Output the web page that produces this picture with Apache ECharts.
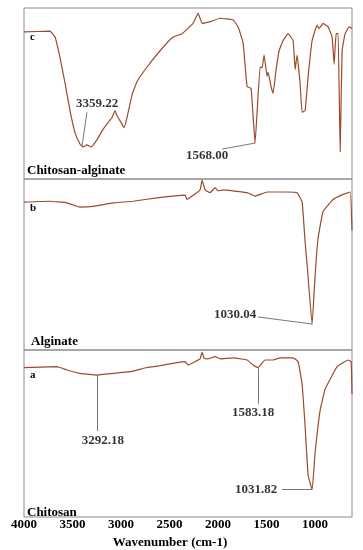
<!DOCTYPE html>
<html>
<head>
<meta charset="utf-8">
<script src="https://cdn.jsdelivr.net/npm/echarts@6/dist/echarts.min.js"></script>
<style>
  html, body { margin: 0; padding: 0; background: #fff; }
  #chart { width: 363px; height: 550px; }
</style>
</head>
<body>
<div id="chart"></div>
<script>
// spectra: [wavenumber, relative transmittance]
const chitosanAlginate = [
  [4000, 86], [3732, 86.5], [3680, 83], [3629, 71], [3577, 56], [3526, 40], [3474, 27],
  [3423, 20.5], [3392, 18.7], [3351, 20], [3309, 18.7], [3247, 23], [3186, 29], [3134, 33],
  [3093, 36], [3062, 40], [3041, 37], [3000, 33], [2969, 30], [2938, 36], [2887, 49],
  [2835, 57], [2732, 65.5], [2598, 75], [2464, 83], [2371, 85], [2258, 91], [2206, 97],
  [2165, 91], [2083, 92], [1979, 94], [1845, 93], [1794, 89], [1742, 79.5], [1701, 54],
  [1660, 53], [1619, 21], [1567, 65.5], [1546, 65], [1526, 72.5], [1495, 60], [1485, 62.5],
  [1454, 54], [1433, 50], [1402, 64], [1371, 75], [1330, 81], [1278, 85], [1227, 81],
  [1206, 64], [1186, 72.5], [1155, 56], [1134, 39], [1103, 40], [1072, 60], [1031, 81],
  [980, 90], [959, 88], [918, 91], [866, 89], [825, 83], [804, 67], [784, 85], [763, 85],
  [742, 16], [722, 75], [691, 85], [649, 89], [620, 88]
];
const alginate = [
  [4000, 86.5], [3732, 87], [3557, 86], [3423, 83.6], [3289, 84], [3082, 86], [2876, 87],
  [2629, 89], [2464, 90], [2340, 90.6], [2320, 88], [2268, 90], [2186, 93.6], [2165, 99.4],
  [2134, 93.6], [2083, 92], [2031, 95], [2000, 93], [1948, 93.6], [1845, 93], [1701, 92],
  [1619, 90], [1495, 92.4], [1289, 92.4], [1186, 92], [1134, 86.5], [1103, 63], [1083, 50],
  [1031, 15], [1000, 44], [969, 65.5], [918, 81], [815, 88], [711, 91], [639, 92.4], [620, 70]
];
const chitosan = [
  [4000, 89.5], [3660, 90], [3557, 88], [3423, 86], [3247, 85], [3082, 86], [2907, 87],
  [2732, 89.5], [2598, 90.6], [2423, 92.4], [2340, 93], [2309, 91], [2258, 92.4], [2186, 94.7],
  [2165, 98.8], [2144, 95], [2103, 94.7], [2031, 96], [1979, 94.7], [1845, 95.3], [1701, 94],
  [1639, 91], [1588, 89.5], [1516, 94], [1433, 94], [1361, 95.3], [1227, 95.3], [1175, 93],
  [1134, 79.5], [1103, 54], [1072, 25], [1031, 16.4], [1000, 38.6], [948, 64], [897, 76.6],
  [845, 82.5], [773, 90], [660, 94], [629, 93], [620, 73.7]
];

const xTicks = [4000, 3500, 3000, 2500, 2000, 1500, 1000];
const panelNames = ['Chitosan-alginate', 'Alginate', 'Chitosan'];
const panelLetters = ['c', 'b', 'a'];

// peak labels: text, leader line (from, to), text anchor
const peakLabels = [
  [{text: '3359.22', from: [3351, 39], to: [3402, 19.3], at: [3247, 44]},
   {text: '1568.00', from: [1959, 17.5], to: [1619, 21], at: [2113, 13.5]}],
  [{text: '1030.04', from: [1588, 19.3], to: [1031, 15.2], at: [1825, 20.5]}],
  [{text: '3292.18', from: [3247, 85], to: [3247, 51.5], at: [3186, 45.6]},
   {text: '1583.18', from: [1588, 89.5], to: [1588, 67.8], at: [1639, 62.6]},
   {text: '1031.82', from: [1340, 16.4], to: [1031, 16.4], at: [1608, 16.4]}]
];

const spectra = [chitosanAlginate, alginate, chitosan];
const serif = '"Liberation Serif", "DejaVu Serif", serif';
const tops = [8, 179, 350];
const panelH = 171;

const chart = echarts.init(document.getElementById('chart'));

const grids = tops.map(t => ({
  left: 24, right: 11, top: t, height: panelH,
  show: true, borderColor: '#8a8a8a', borderWidth: 1, backgroundColor: 'transparent'
}));

const xAxes = tops.map((t, i) => ({
  type: 'value', gridIndex: i, inverse: true, min: 620, max: 4000,
  axisLine: {show: false}, axisTick: {show: false}, splitLine: {show: false},
  axisLabel: i === 2 ? {
    show: true, customValues: xTicks, margin: 1, formatter: v => String(v),
    fontFamily: serif, fontWeight: 'bold', fontSize: 13, color: '#000'
  } : {show: false},
  name: i === 2 ? 'Wavenumber (cm-1)' : '',
  nameLocation: 'middle', nameGap: 19,
  nameTextStyle: {fontFamily: serif, fontWeight: 'bold', fontSize: 13, color: '#000', padding: [0, 36, 0, 0]}
}));

const yAxes = tops.map((t, i) => ({
  type: 'value', gridIndex: i, min: 0, max: 100, show: false
}));

const series = [];
spectra.forEach((d, i) => {
  series.push({
    type: 'line', xAxisIndex: i, yAxisIndex: i, data: d,
    showSymbol: false, smooth: 0.1,
    lineStyle: {color: '#9c4a2c', width: 1.2},
    markLine: {
      silent: true, symbol: 'none',
      lineStyle: {color: '#555', width: 0.8, type: 'solid'},
      label: {show: false},
      data: peakLabels[i].map(p => [{coord: p.from}, {coord: p.to}])
    }
  });
  series.push({
    type: 'scatter', xAxisIndex: i, yAxisIndex: i,
    data: peakLabels[i].map(p => ({value: p.at, name: p.text})),
    symbolSize: 1, itemStyle: {color: 'rgba(0,0,0,0)'},
    label: {
      show: true, position: 'inside', formatter: '{b}',
      fontFamily: serif, fontWeight: 'bold', fontSize: 13, color: '#000'
    }
  });
});

const titles = [];
panelNames.forEach((n, i) => {
  titles.push({
    text: n, left: i === 1 ? 31 : 27, top: tops[i] + panelH - 15,
    textStyle: {fontFamily: serif, fontWeight: 'bold', fontSize: 13, color: '#000'}, padding: 0
  });
  titles.push({
    text: panelLetters[i], left: 30, top: tops[i] + (i === 0 ? 24 : i === 1 ? 24 : 20),
    textStyle: {fontFamily: serif, fontWeight: 'bold', fontSize: 11, color: '#000'}, padding: 0
  });
});

chart.setOption({
  animation: false,
  backgroundColor: '#fff',
  title: titles,
  grid: grids,
  xAxis: xAxes,
  yAxis: yAxes,
  series: series
});
</script>
</body>
</html>
